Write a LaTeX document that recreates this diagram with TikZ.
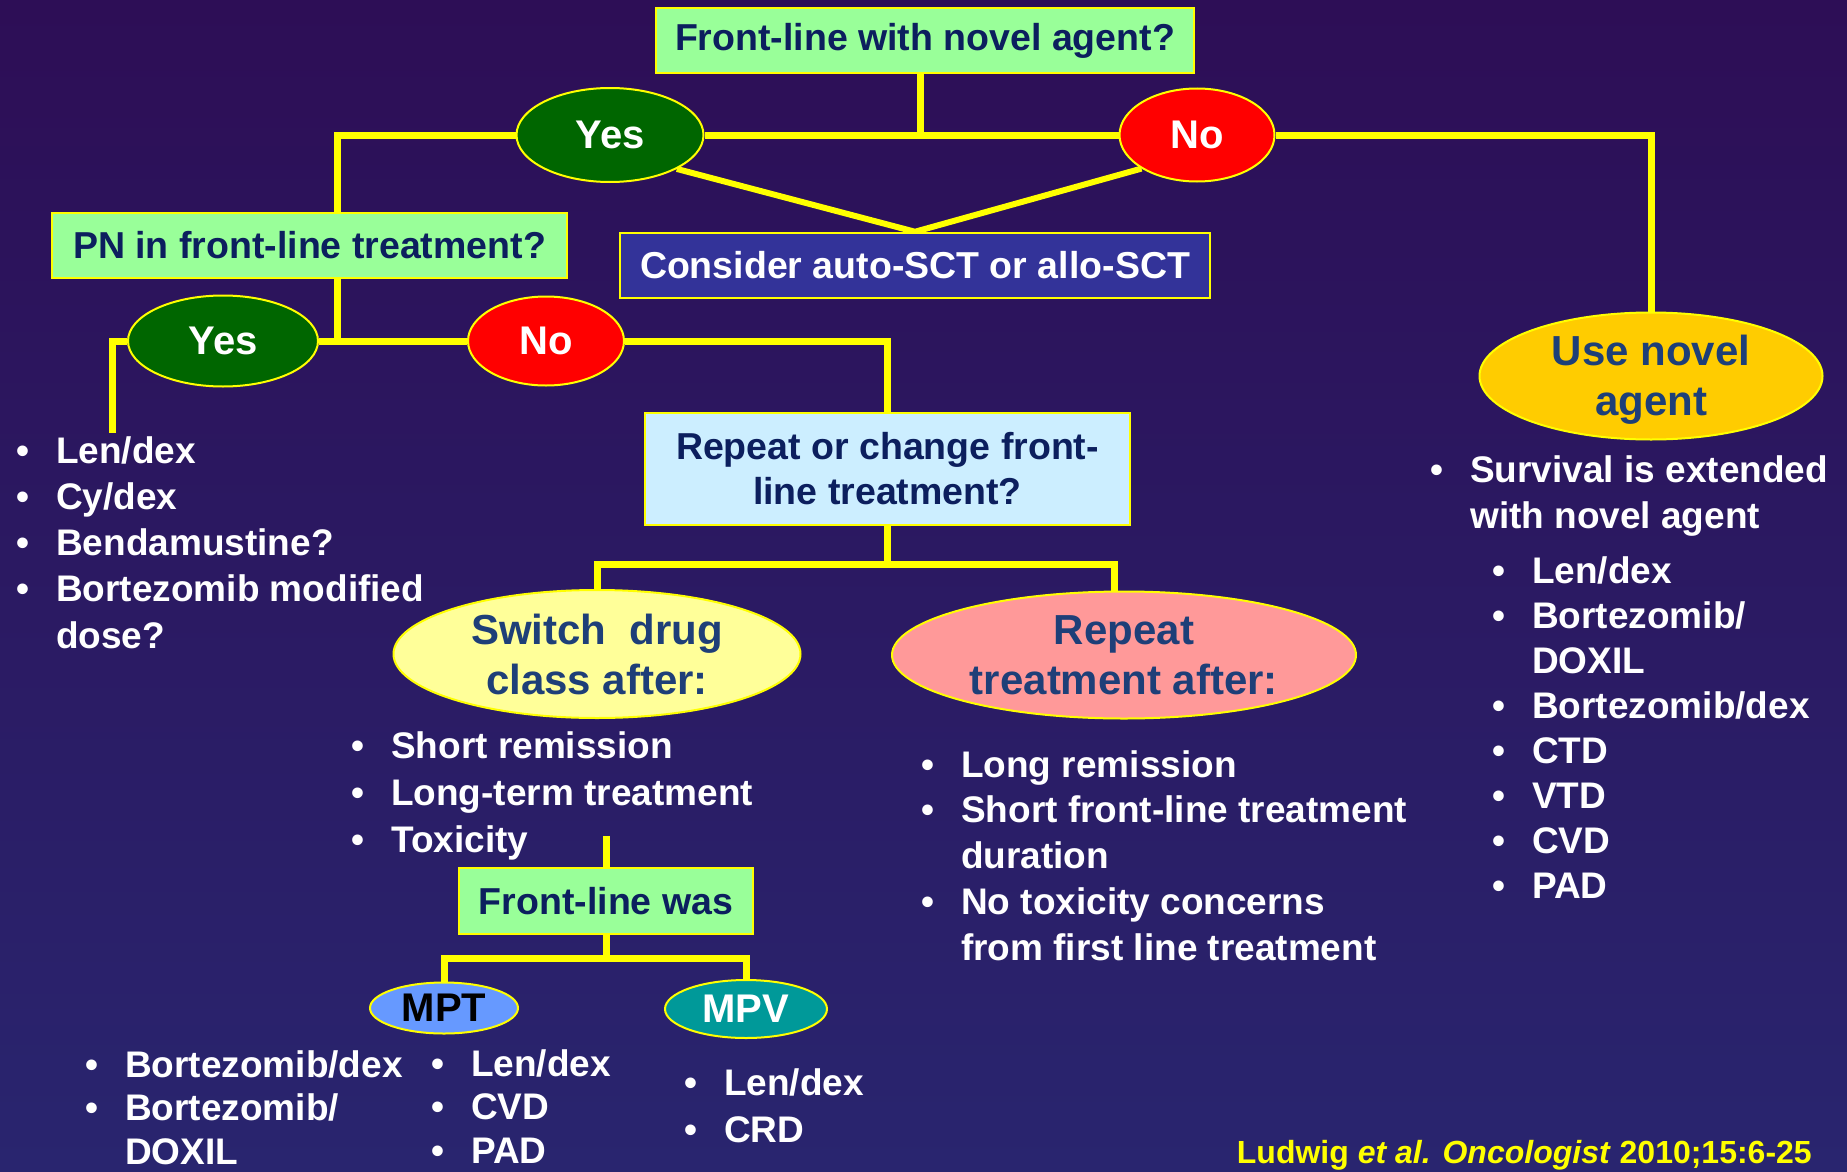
\documentclass[tikz,border=0pt]{standalone}
\usepackage{fontspec}
\setmainfont{Liberation Sans}
\usetikzlibrary{shapes.geometric,calc}
\pgfdeclarelayer{back}
\pgfdeclarelayer{lines}
\pgfsetlayers{back,lines,main}
\definecolor{bgtop}{HTML}{2D0E56}
\definecolor{bgbot}{HTML}{29256F}
\definecolor{ylw}{HTML}{FFFF00}
\definecolor{boxgreen}{HTML}{99FF99}
\definecolor{navy}{HTML}{0C1F5E}
\definecolor{etxt}{HTML}{1E3F78}
\definecolor{darkgreen}{HTML}{006600}
\definecolor{considerblue}{HTML}{333399}
\definecolor{lightblue}{HTML}{CCEEFF}
\definecolor{paleyellow}{HTML}{FFFF99}
\definecolor{pinkfill}{HTML}{FF9999}
\definecolor{goldfill}{HTML}{FFCC00}
\definecolor{mptblue}{HTML}{6699FF}
\definecolor{tealfill}{HTML}{009999}
\newcommand\setfs[2]{\fontsize{#1}{#2}\selectfont}
\newcommand\blist[2]{\setfs{37}{#1}\begin{tabular}[t]{@{}p{40pt}@{}l@{}}#2\end{tabular}}
\newcommand\trimdepth[1]{\raisebox{0pt}[\height][\dimexpr\depth-16pt\relax]{#1}}
\begin{document}
\begin{tikzpicture}[x=1pt,y=-1pt,
  every node/.style={inner sep=0pt},
  conn/.style={draw=ylw,line width=7pt},
  qbox/.style={rectangle,draw=ylw,line width=2.5pt,text=navy,font=\bfseries\setfs{37.5}{45},align=center},
  oval/.style={ellipse,draw=ylw,line width=2pt},
  yn/.style={oval,text=white,font=\bfseries\setfs{40}{45}},
  otext/.style={text=etxt,font=\bfseries\setfs{42}{50},align=center},
  blt/.style={text=white,anchor=base west,font=\bfseries}
]
\useasboundingbox (0,0) rectangle (1847,1172);
\begin{pgfonlayer}{back}
\shade[top color=bgtop,bottom color=bgbot] (0,0) rectangle (1847,1172);
\end{pgfonlayer}

% top level
\node[qbox,fill=boxgreen,minimum width=538,minimum height=65] (q1) at (925,40.5) {Front-line with novel agent?};
\node[yn,fill=darkgreen,minimum width=187,minimum height=94] (yes1) at (610,135) {Yes};
\node[yn,fill=red,minimum width=155,minimum height=93] (no1) at (1197,135) {No};
\node[qbox,fill=considerblue,text=white,minimum width=590,minimum height=65] (cons) at (915,265.5) {Consider auto-SCT or allo-SCT};

% left branch
\node[qbox,fill=boxgreen,minimum width=515,minimum height=65] (pn) at (309.5,245.5) {PN in front-line treatment?};
\node[yn,fill=darkgreen,minimum width=190,minimum height=91] (yes2) at (223,341) {Yes};
\node[yn,fill=red,minimum width=156,minimum height=89] (no2) at (546,341) {No};
\node[qbox,fill=lightblue,minimum width=485,minimum height=112] (rep) at (887.5,469) {Repeat or change front-\\line treatment?};

% ellipses
\node[oval,fill=goldfill,minimum width=343,minimum height=127] (use) at (1651,376) {};
\node[otext] (useT) at (1651,380) {Use novel\\agent};
\node[oval,fill=paleyellow,minimum width=407,minimum height=128] (sw) at (597,654) {};
\node[otext] (swT) at (sw) {Switch~~drug\\class after:};
\node[oval,fill=pinkfill,minimum width=464,minimum height=127] (rp) at (1124,655) {};
\node[otext] (rpT) at (rp) {Repeat\\treatment after:};

% front-line was
\node[qbox,fill=boxgreen,minimum width=294,minimum height=66] (fw) at (606,901) {Front-line was};
\node[oval,fill=mptblue,text=black,font=\bfseries\setfs{40}{45},minimum width=148,minimum height=51] (mpt) at (444,1008) {MPT};
\node[oval,fill=tealfill,text=white,font=\bfseries\setfs{40}{45},minimum width=162,minimum height=58] (mpv) at (746,1009) {MPV};

% lists
\node[blt] (l1) at (16,463) {\blist{46.25}{• & Len/dex\\ • & Cy/dex\\ • & Bendamustine?\\ • & Bortezomib modified\\ & dose?}};
\node[blt] (r1) at (1430,482) {\blist{46}{• & Survival is extended\\ & with novel agent}};
\node[blt] (r2) at (1492,583) {\blist{45}{• & Len/dex\\ • & Bortezomib/\\ & DOXIL\\ • & Bortezomib/dex\\ • & CTD\\ • & VTD\\ • & CVD\\ • & PAD}};
\node[blt] (s1) at (351,758) {\blist{47}{• & Short remission\\ • & Long-term treatment\\ • & Toxicity}};
\node[blt] (p1) at (921,777) {\blist{45.75}{• & Long remission\\ • & Short front-line treatment\\ & duration\\ • & No toxicity concerns\\ & from first line treatment}};
\node[blt] (m1) at (85,1077) {\trimdepth{\blist{43.5}{• & Bortezomib/dex\\ • & Bortezomib/\\ & DOXIL}}};
\node[blt] (m2) at (431,1076) {\trimdepth{\blist{43.5}{• & Len/dex\\ • & CVD\\ • & PAD}}};
\node[blt] (v1) at (684,1095) {\blist{47}{• & Len/dex\\ • & CRD}};

\node[text=ylw,font=\bfseries\setfs{32}{36},anchor=base east] (cite) at (1812,1163) {Ludwig \textit{et al. Oncologist} 2010;15:6-25};

% connectors
\begin{pgfonlayer}{lines}
\draw[conn] ([xshift=-5pt]q1.south) -- ([xshift=-5pt]q1.south |- yes1.east);
\draw[conn] ([xshift=27.5pt]pn.north) |- (yes1.west);
\draw[conn] (yes1.east) -- (no1.west);
\draw[conn] (no1.east) -| (use.north);
\draw[conn,line width=6pt] (yes1.south east) -- (cons.north) -- (no1.south west);
\draw[conn] ([xshift=27.5pt]pn.south) |- (no2.west);
\draw[conn] (yes2.east) -- (no2.west);
\coordinate (y2end) at (112,433);
\draw[conn] (yes2.west) -| (y2end);
\draw[conn] (no2.east) -| (rep.north);
\coordinate (rj) at ($(rep.south)+(0,38)$);
\draw[conn] (rep.south) -- (rj);
\draw[conn] (sw.north) |- (rj) -| ([xshift=-10pt]rp.north);
\coordinate (fwtop) at ($(fw.north)+(0,-31)$);
\draw[conn] (fwtop) -- (fw.north);
\coordinate (fj) at ($(fw.south)+(0,23)$);
\draw[conn] (fw.south) -- (fj);
\draw[conn] (mpt.north) |- (fj) -| (mpv.north);
\end{pgfonlayer}
\end{tikzpicture}
\end{document}
